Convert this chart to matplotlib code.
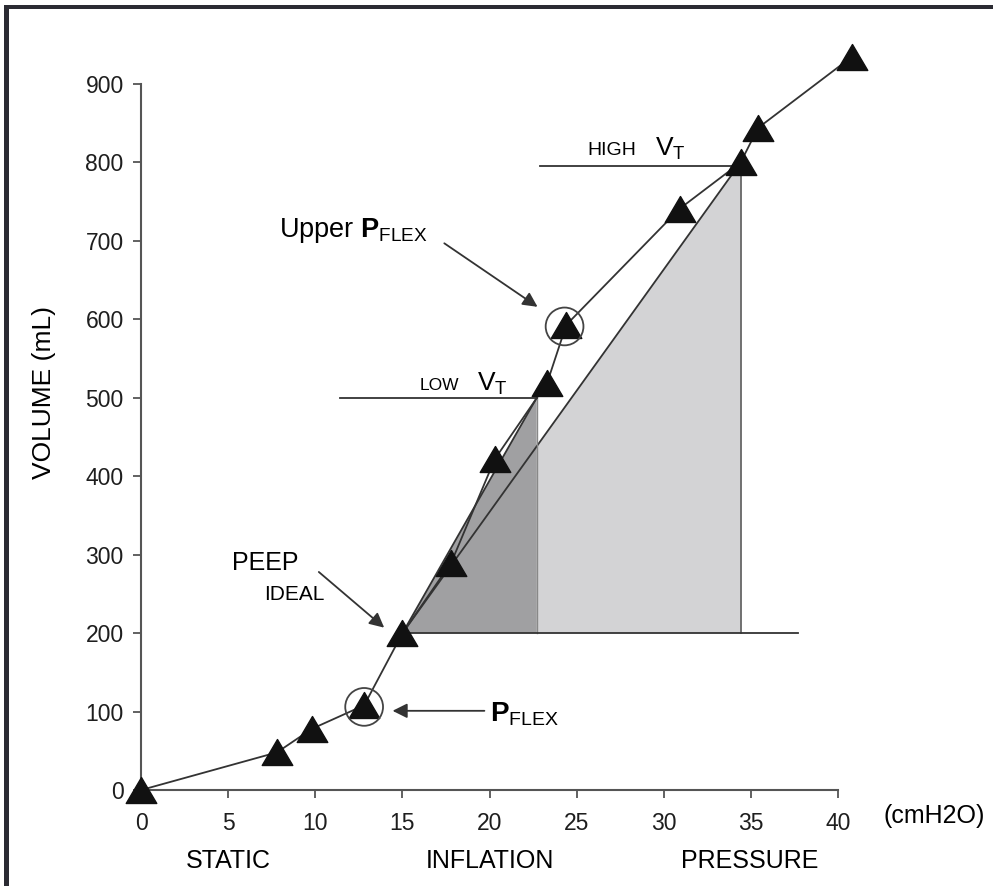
import matplotlib
matplotlib.use("Agg")
import matplotlib.pyplot as plt
from matplotlib.patches import Polygon, Rectangle
from matplotlib.path import Path

plt.rcParams['font.family'] = ['Liberation Sans', 'DejaVu Sans']
plt.rcParams['mathtext.fontset'] = 'custom'
plt.rcParams['mathtext.rm'] = 'Liberation Sans'
plt.rcParams['mathtext.bf'] = 'Liberation Sans:bold'
plt.rcParams['mathtext.it'] = 'Liberation Sans'

# ---- data ----
pressure = [0, 7.8, 9.8, 12.8, 15.0, 17.8, 20.3, 23.3, 24.4, 30.9, 34.4, 35.4, 40.8]
volume = [0, 48, 78, 108, 200, 290, 422, 519, 593, 741, 800, 844, 935]

peep_ideal = (15.0, 200)      # PEEP ideal point
low_vt = (22.7, 500)          # low tidal volume corner
high_vt = (34.4, 800)         # high tidal volume corner
lower_pflex = (12.8, 106)
upper_pflex = (24.3, 591)
baseline_end = 37.7
low_line_start = 11.4
high_line_start = 22.9
high_line_y = 796

xticks = [0, 5, 10, 15, 20, 25, 30, 35, 40]
yticks = [0, 100, 200, 300, 400, 500, 600, 700, 800, 900]

fig = plt.figure(figsize=(9.93, 8.86), dpi=100)
ax = fig.add_axes([0.1245, 0.0906, 0.7547, 0.8588])
ax.set_xlim(-1, 42)
ax.set_ylim(-20, 950)

# shaded triangles
light = Polygon([peep_ideal, high_vt, (high_vt[0], peep_ideal[1])], closed=True,
                facecolor='#d3d3d5', edgecolor='none', zorder=1)
dark = Polygon([peep_ideal, low_vt, (low_vt[0], peep_ideal[1])], closed=True,
               facecolor='#a0a0a2', edgecolor='none', zorder=2)
ax.add_patch(light)
ax.add_patch(dark)
ax.plot([peep_ideal[0], high_vt[0]], [peep_ideal[1], high_vt[1]], color='#333333', lw=1.3, zorder=3)
ax.plot([peep_ideal[0], low_vt[0]], [peep_ideal[1], low_vt[1]], color='#333333', lw=1.3, zorder=3)
ax.plot([high_vt[0], high_vt[0]], [peep_ideal[1], high_vt[1]], color='#666666', lw=1.3, zorder=3)
ax.plot([low_vt[0], low_vt[0]], [peep_ideal[1], low_vt[1]], color='#888888', lw=1.0, zorder=3)

# horizontal reference lines
ax.plot([peep_ideal[0], baseline_end], [peep_ideal[1], peep_ideal[1]], color='#333333', lw=1.3, zorder=3)
ax.plot([low_line_start, low_vt[0]], [low_vt[1], low_vt[1]], color='#333333', lw=1.3, zorder=3)
ax.plot([high_line_start, high_vt[0]], [high_line_y, high_line_y], color='#333333', lw=1.3, zorder=3)

# curve with triangle markers
tri = Path([(0, 0.85), (-1, -0.85), (1, -0.85), (0, 0.85)],
           [Path.MOVETO, Path.LINETO, Path.LINETO, Path.CLOSEPOLY])
ax.plot(pressure, volume, color='#333333', lw=1.3, zorder=4,
        marker=tri, markersize=22, markerfacecolor='#111111', markeredgecolor='#111111',
        clip_on=False)

# circles around inflection points
ax.scatter([lower_pflex[0], upper_pflex[0]], [lower_pflex[1], upper_pflex[1]],
           s=740, facecolors='none', edgecolors='#444444', linewidths=1.3, zorder=5)

# annotations
arrowprops = dict(arrowstyle='-|>', color='#333333', lw=1.3, mutation_scale=22,
                  shrinkA=0, shrinkB=0)
ax.text(7.9, 713, r'Upper $\mathbf{P}_{\mathrm{FLEX}}$', fontsize=19.5, va='center', ha='left')
ax.annotate('', xy=(22.75, 616), xytext=(17.4, 697), arrowprops=arrowprops)

ax.text(5.2, 289, 'PEEP', fontsize=18, va='center', ha='left')
ax.text(7.05, 249, 'IDEAL', fontsize=15, va='center', ha='left')
ax.annotate('', xy=(13.95, 207), xytext=(10.2, 278), arrowprops=arrowprops)

ax.text(20.0, 96, r'$\mathbf{P}_{\mathrm{FLEX}}$', fontsize=20, va='center', ha='left')
ax.annotate('', xy=(14.43, 101), xytext=(19.7, 101), arrowprops=arrowprops)

ax.text(16.0, 516, 'LOW', fontsize=12.5, va='center', ha='left')
ax.text(19.3, 518, r'$\mathrm{V}_{\mathrm{T}}$', fontsize=19, va='center', ha='left')
ax.text(25.6, 815, 'HIGH', fontsize=14, va='center', ha='left')
ax.text(29.5, 817, r'$\mathrm{V}_{\mathrm{T}}$', fontsize=19, va='center', ha='left')

# axis words
ax.text(5.0, -90, 'STATIC', fontsize=18, ha='center', va='center', clip_on=False)
ax.text(20.0, -90, 'INFLATION', fontsize=18, ha='center', va='center', clip_on=False)
ax.text(34.9, -90, 'PRESSURE', fontsize=18, ha='center', va='center', clip_on=False)
ax.text(45.5, -33, '(cmH2O)', fontsize=18, ha='center', va='center', clip_on=False)
ax.text(-5.55, 507, 'VOLUME (mL)', fontsize=19, ha='center', va='center', rotation=90, clip_on=False)

# axes styling
for s in ['top', 'right']:
    ax.spines[s].set_visible(False)
ax.spines['left'].set_position(('data', 0))
ax.spines['bottom'].set_position(('data', 0))
ax.spines['left'].set_bounds(0, 900)
ax.spines['bottom'].set_bounds(0, 40)
for s in ['left', 'bottom']:
    ax.spines[s].set_color('#555555')
    ax.spines[s].set_linewidth(1.5)
    ax.spines[s].set_zorder(2.5)
ax.set_xticks(xticks)
ax.set_yticks(yticks)
ax.tick_params(axis='both', direction='out', length=5.5, width=1.3, color='#555555',
               labelsize=16.5, labelcolor='#1e1e1e')
ax.tick_params(axis='y', pad=7)
ax.tick_params(axis='x', pad=10)

# frame border (top and left) as in the reference image
fig.add_artist(Rectangle((0.004, 0.9898), 0.996, 0.0046, transform=fig.transFigure,
                         facecolor='#2b2b33', edgecolor='none'))
fig.add_artist(Rectangle((0.004, 0.0), 0.005, 0.9944, transform=fig.transFigure,
                         facecolor='#2b2b33', edgecolor='none'))

fig.savefig('out.png', dpi=100)
